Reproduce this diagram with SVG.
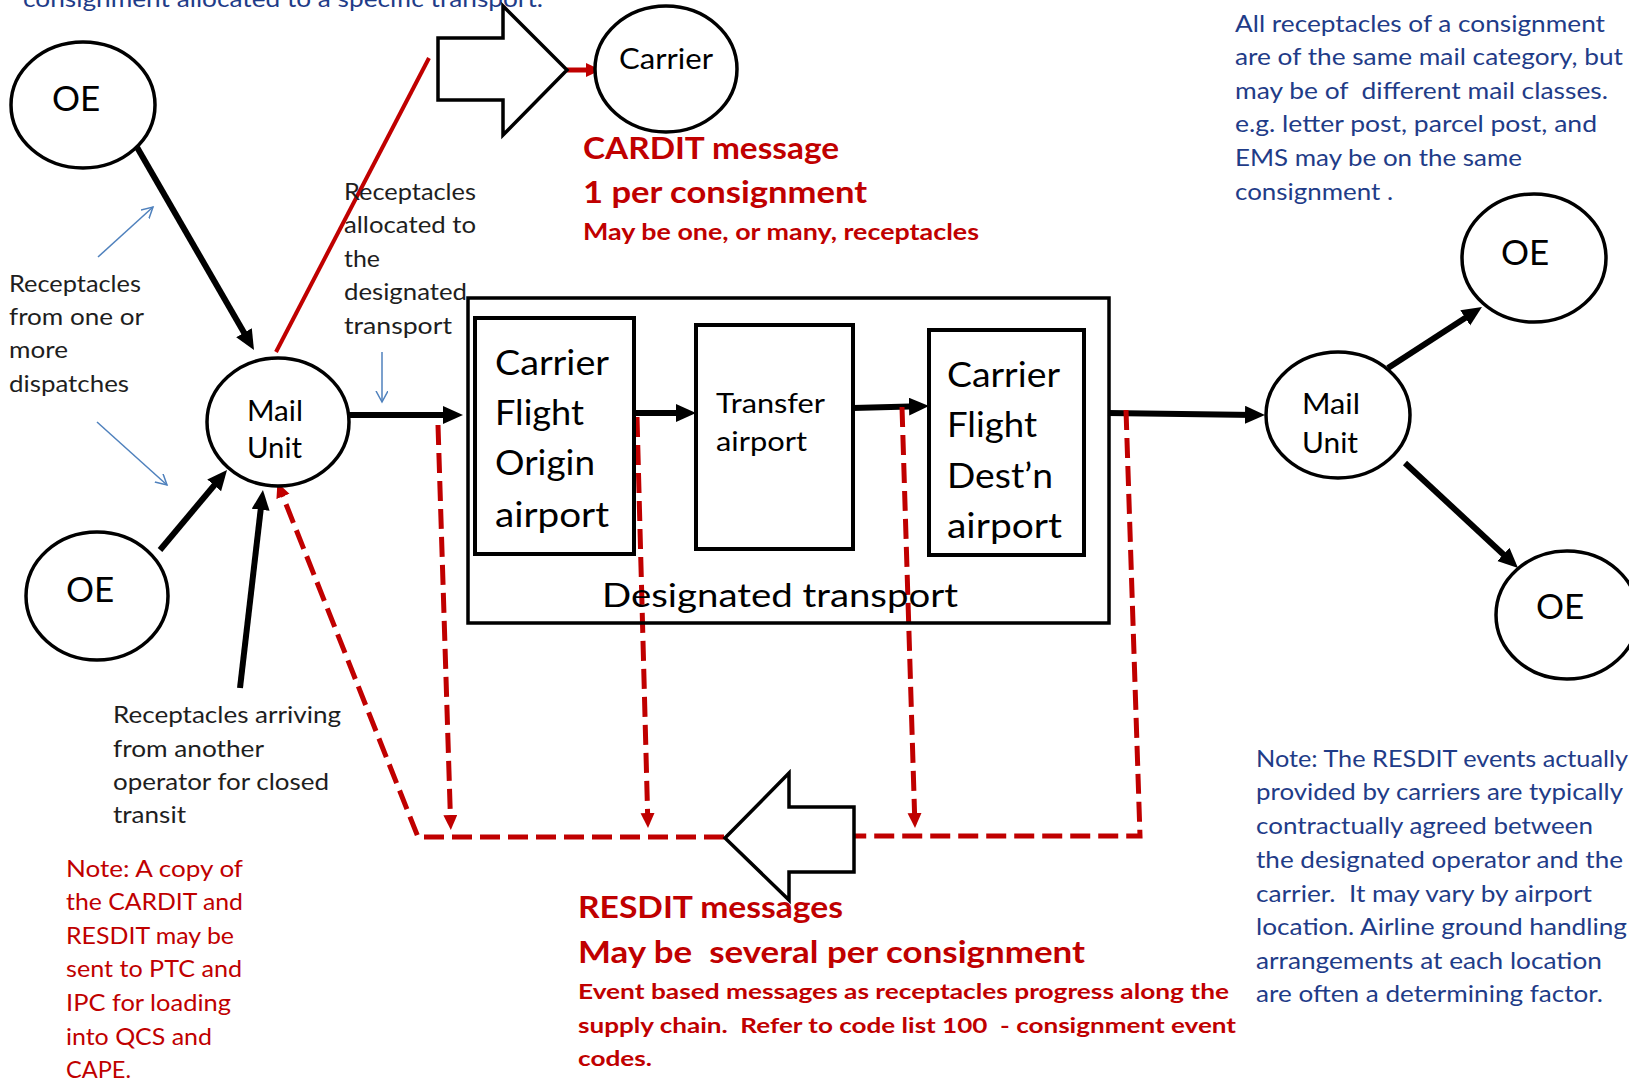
<svg xmlns="http://www.w3.org/2000/svg" width="1629" height="1081" viewBox="0 0 1629 1081" xml:space="preserve">
<style>
text{font-family:Lato,"Liberation Sans",sans-serif;white-space:pre}
.node{fill:#fff;stroke:#000;stroke-width:3.5}
.lbl{fill:#000;text-anchor:middle}
.dark{fill:#1e1e1e;font-size:23px}
.blue{fill:#1f3c88;font-size:23px}
.rn{fill:#c00000;font-size:23px}
.rb{fill:#c00000;font-weight:bold}
.blk{stroke:#000;stroke-width:6;fill:none;marker-end:url(#ab)}
.thin{stroke:#4f81bd;stroke-width:1.5;fill:none;marker-end:url(#av)}
.rd{stroke:#c00000;stroke-width:5;fill:none;stroke-dasharray:20 8}
.rda{stroke:#c00000;stroke-width:5;fill:none;stroke-dasharray:20 8;marker-end:url(#ar)}
.big{fill:#fff;stroke:#000;stroke-width:3.5;stroke-linejoin:miter}
.box{fill:none;stroke:#000;stroke-width:4}
</style>
<defs>
<marker id="ab" markerUnits="userSpaceOnUse" markerWidth="22" markerHeight="20" refX="10" refY="9" orient="auto" viewBox="0 0 22 20"><path d="M0,0 L20,9 L0,18 z" fill="#000"/></marker>
<marker id="ar" markerUnits="userSpaceOnUse" markerWidth="16" markerHeight="16" refX="8" refY="7" orient="auto" viewBox="0 0 16 16"><path d="M0,0 L15,7 L0,14 z" fill="#c00000"/></marker>
<marker id="av" markerUnits="userSpaceOnUse" markerWidth="14" markerHeight="14" refX="11" refY="6" orient="auto" viewBox="0 0 14 14"><path d="M0,0 L11,6 L0,12" fill="none" stroke="#4f81bd" stroke-width="1.5"/></marker>
</defs>

<g id="note-top">
<text class="blue" x="23" y="7" textLength="520" lengthAdjust="spacingAndGlyphs">consignment allocated to a specific transport.</text>
</g>

<g id="connectors">
<line class="blk" x1="134" y1="142" x2="249" y2="341.3"/>
<line class="blk" x1="160" y1="550" x2="220.6" y2="477.7"/>
<line class="blk" x1="240" y1="688" x2="261.8" y2="499.9"/>
<line class="blk" x1="349" y1="415" x2="453" y2="415"/>
<line class="blk" x1="634" y1="413" x2="686" y2="413"/>
<line class="blk" x1="853" y1="408" x2="919" y2="406.3"/>
<line class="blk" x1="1108" y1="413" x2="1255" y2="414.9"/>
<line class="blk" x1="1388" y1="368" x2="1473.6" y2="312.4"/>
<line class="blk" x1="1405" y1="463" x2="1510.7" y2="561.2"/>
<line x1="276" y1="352" x2="429" y2="58" stroke="#c00000" stroke-width="4"/>
<line x1="567" y1="70" x2="594" y2="70" stroke="#c00000" stroke-width="5" marker-end="url(#ar)"/>
<line class="thin" x1="98" y1="257" x2="153" y2="207"/>
<line class="thin" x1="97" y1="422" x2="167" y2="485"/>
<line class="thin" x1="382" y1="352" x2="382" y2="402"/>
<line class="rda" x1="438" y1="425" x2="450.6" y2="823"/>
<line class="rda" x1="637" y1="417" x2="647.8" y2="821"/>
<line class="rda" x1="902" y1="407" x2="914.8" y2="821"/>
<polyline class="rd" points="1126,410 1140,836 854,836"/>
<polyline class="rda" points="724,837 418,837 280,489"/>
</g>

<g id="block-arrow-cardit">
<polygon class="big" points="438,38 503,38 503,6 567,70 503,135 503,100 438,100"/>
</g>
<g id="block-arrow-resdit">
<polygon class="big" points="725,838 789,773 789,807 854,807 854,872 789,872 789,900"/>
</g>

<g id="oe-top-left">
<ellipse class="node" cx="83" cy="105" rx="72" ry="63"/>
<text class="lbl" x="76" y="111" font-size="35">OE</text>
</g>
<g id="oe-bottom-left">
<ellipse class="node" cx="97" cy="596" rx="71" ry="64"/>
<text class="lbl" x="90" y="602" font-size="35">OE</text>
</g>
<g id="mail-unit-left">
<ellipse class="node" cx="278" cy="422" rx="71" ry="64"/>
<text x="247" y="421" font-size="28" textLength="56" lengthAdjust="spacingAndGlyphs">Mail</text>
<text x="247" y="458" font-size="28" textLength="55" lengthAdjust="spacingAndGlyphs">Unit</text>
</g>
<g id="carrier">
<ellipse class="node" cx="666" cy="69" rx="71" ry="63"/>
<text x="619" y="69" font-size="29" textLength="94" lengthAdjust="spacingAndGlyphs">Carrier</text>
</g>
<g id="mail-unit-right">
<ellipse class="node" cx="1338" cy="415" rx="72" ry="63"/>
<text x="1302" y="414" font-size="28" textLength="58" lengthAdjust="spacingAndGlyphs">Mail</text>
<text x="1302" y="453" font-size="28" textLength="56" lengthAdjust="spacingAndGlyphs">Unit</text>
</g>
<g id="oe-top-right">
<ellipse class="node" cx="1534" cy="258" rx="72" ry="64"/>
<text class="lbl" x="1525" y="265" font-size="35">OE</text>
</g>
<g id="oe-bottom-right">
<ellipse class="node" cx="1567" cy="615" rx="71" ry="64"/>
<text class="lbl" x="1560" y="619" font-size="35">OE</text>
</g>

<g id="designated-transport">
<rect x="468" y="298" width="641" height="325" fill="none" stroke="#000" stroke-width="3.5"/>
<text x="602" y="607" font-size="33" textLength="356" lengthAdjust="spacingAndGlyphs">Designated transport</text>
</g>
<g id="carrier-flight-origin">
<rect class="box" x="475" y="318" width="159" height="236"/>
<text x="495" y="375" font-size="35" textLength="114" lengthAdjust="spacingAndGlyphs">Carrier</text>
<text x="495" y="425" font-size="35" textLength="89" lengthAdjust="spacingAndGlyphs">Flight</text>
<text x="495" y="475" font-size="35" textLength="100" lengthAdjust="spacingAndGlyphs">Origin</text>
<text x="495" y="527" font-size="35" textLength="114" lengthAdjust="spacingAndGlyphs">airport</text>
</g>
<g id="transfer-airport">
<rect class="box" x="696" y="325" width="157" height="224"/>
<text x="716" y="413" font-size="27" textLength="109" lengthAdjust="spacingAndGlyphs">Transfer</text>
<text x="716" y="451" font-size="27" textLength="91" lengthAdjust="spacingAndGlyphs">airport</text>
</g>
<g id="carrier-flight-dest">
<rect class="box" x="929" y="330" width="155" height="225"/>
<text x="947" y="387" font-size="35" textLength="113" lengthAdjust="spacingAndGlyphs">Carrier</text>
<text x="947" y="437" font-size="35" textLength="90" lengthAdjust="spacingAndGlyphs">Flight</text>
<text x="947" y="488" font-size="35" textLength="106" lengthAdjust="spacingAndGlyphs">Dest’n</text>
<text x="947" y="538" font-size="35" textLength="115" lengthAdjust="spacingAndGlyphs">airport</text>
</g>

<g id="label-dispatches" class="dark">
<text x="9" y="292" textLength="132" lengthAdjust="spacingAndGlyphs">Receptacles</text>
<text x="9" y="325" textLength="135" lengthAdjust="spacingAndGlyphs">from one or</text>
<text x="9" y="358" textLength="59" lengthAdjust="spacingAndGlyphs">more</text>
<text x="9" y="392" textLength="120" lengthAdjust="spacingAndGlyphs">dispatches</text>
</g>
<g id="label-allocated" class="dark">
<text x="344" y="200" textLength="132" lengthAdjust="spacingAndGlyphs">Receptacles</text>
<text x="344" y="233" textLength="132" lengthAdjust="spacingAndGlyphs">allocated to</text>
<text x="344" y="267" textLength="36" lengthAdjust="spacingAndGlyphs">the</text>
<text x="344" y="300" textLength="123" lengthAdjust="spacingAndGlyphs">designated</text>
<text x="344" y="334" textLength="108" lengthAdjust="spacingAndGlyphs">transport</text>
</g>
<g id="label-arriving" class="dark">
<text x="113" y="723" textLength="228" lengthAdjust="spacingAndGlyphs">Receptacles arriving</text>
<text x="113" y="757" textLength="151" lengthAdjust="spacingAndGlyphs">from another</text>
<text x="113" y="790" textLength="216" lengthAdjust="spacingAndGlyphs">operator for closed</text>
<text x="113" y="823" textLength="73" lengthAdjust="spacingAndGlyphs">transit</text>
</g>
<g id="note-copy" class="rn">
<text x="66" y="877" textLength="177" lengthAdjust="spacingAndGlyphs">Note: A copy of</text>
<text x="66" y="910" textLength="177" lengthAdjust="spacingAndGlyphs">the CARDIT and</text>
<text x="66" y="944" textLength="168" lengthAdjust="spacingAndGlyphs">RESDIT may be</text>
<text x="66" y="977" textLength="176" lengthAdjust="spacingAndGlyphs">sent to PTC and</text>
<text x="66" y="1011" textLength="165" lengthAdjust="spacingAndGlyphs">IPC for loading</text>
<text x="66" y="1045" textLength="146" lengthAdjust="spacingAndGlyphs">into QCS and</text>
<text x="66" y="1078" textLength="65" lengthAdjust="spacingAndGlyphs">CAPE.</text>
</g>
<g id="label-cardit" class="rb">
<text x="583" y="159" font-size="31" textLength="256" lengthAdjust="spacingAndGlyphs">CARDIT message</text>
<text x="583" y="203" font-size="31" textLength="284" lengthAdjust="spacingAndGlyphs">1 per consignment</text>
<text x="583" y="240" font-size="22" textLength="396" lengthAdjust="spacingAndGlyphs">May be one, or many, receptacles</text>
</g>
<g id="label-resdit" class="rb">
<text x="578" y="918" font-size="30" textLength="265" lengthAdjust="spacingAndGlyphs">RESDIT messages</text>
<text x="578" y="963" font-size="30" textLength="507" lengthAdjust="spacingAndGlyphs">May be  several per consignment</text>
<text x="578" y="999" font-size="21" textLength="651" lengthAdjust="spacingAndGlyphs">Event based messages as receptacles progress along the</text>
<text x="578" y="1033" font-size="21" textLength="658" lengthAdjust="spacingAndGlyphs">supply chain.  Refer to code list 100  - consignment event</text>
<text x="578" y="1066" font-size="21" textLength="74" lengthAdjust="spacingAndGlyphs">codes.</text>
</g>
<g id="note-category" class="blue">
<text x="1235" y="32" textLength="370" lengthAdjust="spacingAndGlyphs">All receptacles of a consignment</text>
<text x="1235" y="65" textLength="388" lengthAdjust="spacingAndGlyphs">are of the same mail category, but</text>
<text x="1235" y="99" textLength="373" lengthAdjust="spacingAndGlyphs">may be of  different mail classes.</text>
<text x="1235" y="132" textLength="362" lengthAdjust="spacingAndGlyphs">e.g. letter post, parcel post, and</text>
<text x="1235" y="166" textLength="287" lengthAdjust="spacingAndGlyphs">EMS may be on the same</text>
<text x="1235" y="200" textLength="158" lengthAdjust="spacingAndGlyphs">consignment .</text>
</g>
<g id="note-resdit" class="blue">
<text x="1256" y="767" textLength="372" lengthAdjust="spacingAndGlyphs">Note: The RESDIT events actually</text>
<text x="1256" y="800" textLength="367" lengthAdjust="spacingAndGlyphs">provided by carriers are typically</text>
<text x="1256" y="834" textLength="337" lengthAdjust="spacingAndGlyphs">contractually agreed between</text>
<text x="1256" y="868" textLength="367" lengthAdjust="spacingAndGlyphs">the designated operator and the</text>
<text x="1256" y="902" textLength="336" lengthAdjust="spacingAndGlyphs">carrier.  It may vary by airport</text>
<text x="1256" y="935" textLength="371" lengthAdjust="spacingAndGlyphs">location. Airline ground handling</text>
<text x="1256" y="969" textLength="346" lengthAdjust="spacingAndGlyphs">arrangements at each location</text>
<text x="1256" y="1002" textLength="347" lengthAdjust="spacingAndGlyphs">are often a determining factor.</text>
</g>
</svg>
